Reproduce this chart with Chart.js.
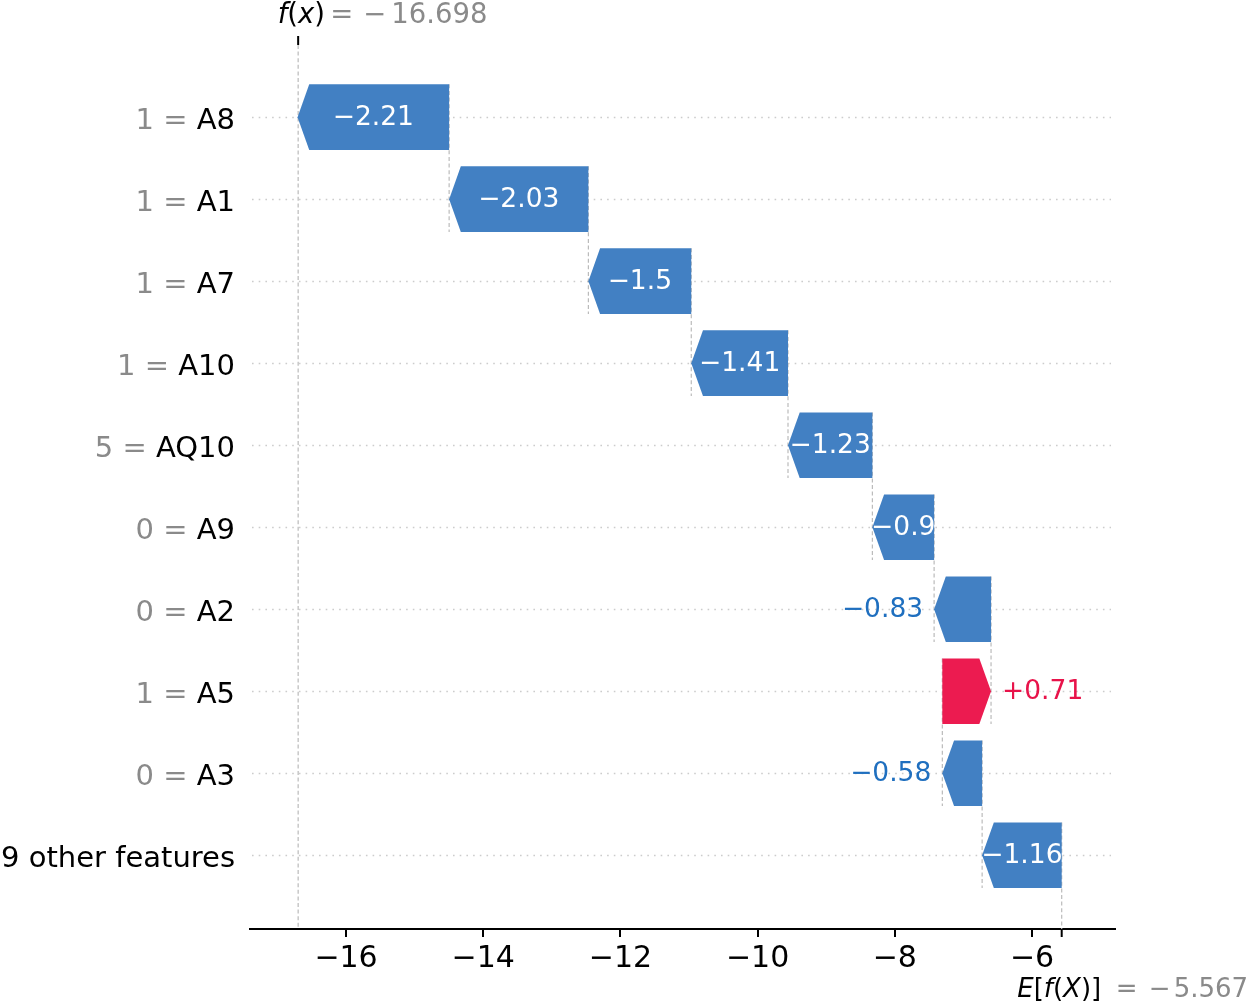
<!DOCTYPE html>
<html><head><meta charset="utf-8">
<script src="https://cdn.jsdelivr.net/npm/chart.js@4.4.1/dist/chart.umd.min.js"></script>
<style>html,body{margin:0;padding:0;background:#fff;}#c{display:block;}</style>
</head><body>
<canvas id="c" width="1255" height="1002" style="width:1255px;height:1002px"></canvas>
<script>
// ---- data (top row first) ----
const featureNames  = ["A8","A1","A7","A10","AQ10","A9","A2","A5","A3","9 other features"];
const featureValues = ["1","1","1","1","5","0","0","1","0",""];
const shapValues    = [-2.21,-2.03,-1.5,-1.41,-1.23,-0.9,-0.83,0.71,-0.58,-1.16];
const baseValue = -5.567;   // E[f(X)]
const fxValue   = -16.698;  // f(x)
const xTicks    = [-16,-14,-12,-10,-8,-6];

// cumulative positions, built from the bottom row (base value) upward
const starts = new Array(shapValues.length), ends = new Array(shapValues.length);
(function(){ let cur = baseValue; for (let i = shapValues.length-1; i >= 0; i--) { starts[i] = cur; ends[i] = cur + shapValues[i]; cur = ends[i]; } })();

const BLUE = '#4280c3', RED = '#ec1b50', BLUE_T = '#1f6fbf', RED_T = '#e8134a';
const GRAY = '#8a8a8a', LINE = '#bbbbbb';
const FF = '"DejaVu Sans", sans-serif';
const fmtNum = v => (v < 0 ? '\u2212' : '') + Math.abs(v);
const fmtShap = v => (v < 0 ? '\u2212' : '+') + Math.abs(v);

function drawPieces(ctx, x, y, pieces) {
  for (const p of pieces) {
    ctx.font = p.font; ctx.fillStyle = p.color;
    ctx.fillText(p.text, x, y);
    x += ctx.measureText(p.text).width;
  }
}

const waterfall = {
  id: 'waterfall',
  beforeDatasetsDraw(chart) {
    const {ctx, chartArea: ca, scales: {x: xs, y: ys}} = chart;
    ctx.save();
    // dotted horizontal grid
    ctx.strokeStyle = '#cccccc'; ctx.lineWidth = 1.6; ctx.setLineDash([1.6, 5.1]);
    for (let i = 0; i < shapValues.length; i++) {
      const y = Math.round(ys.getPixelForValue(i)) + 0.5;
      ctx.beginPath(); ctx.moveTo(ca.left + 2, y); ctx.lineTo(ca.right - 4, y); ctx.stroke();
    }
    // dashed connectors
    ctx.strokeStyle = LINE; ctx.lineWidth = 1.2; ctx.setLineDash([4, 2.6]);
    for (let i = 0; i < shapValues.length; i++) {
      const x = xs.getPixelForValue(starts[i]);
      const y1 = ys.getPixelForValue(i - 0.4);
      const y2 = ys.getPixelForValue(Math.min(i + 1.4, ys.max));
      ctx.beginPath(); ctx.moveTo(x, y1); ctx.lineTo(x, y2); ctx.stroke();
    }
    // f(x) line
    const fxp = xs.getPixelForValue(fxValue);
    ctx.beginPath(); ctx.moveTo(fxp, ca.top); ctx.lineTo(fxp, ca.bottom); ctx.stroke();
    ctx.restore();
  },
  afterDatasetsDraw(chart) {
    const {ctx, chartArea: ca, scales: {x: xs, y: ys}} = chart;
    ctx.save();
    const HL = 11.7;
    ctx.setLineDash([]);
    for (let i = 0; i < shapValues.length; i++) {
      const xs0 = xs.getPixelForValue(starts[i]), xe = xs.getPixelForValue(ends[i]);
      const yc = ys.getPixelForValue(i);
      const top = ys.getPixelForValue(i - 0.4), bot = ys.getPixelForValue(i + 0.4);
      const dir = shapValues[i] < 0 ? -1 : 1;
      const sh = xe - dir * HL;
      ctx.fillStyle = dir < 0 ? BLUE : RED;
      ctx.beginPath();
      ctx.moveTo(xs0, top); ctx.lineTo(sh, top); ctx.lineTo(xe, yc);
      ctx.lineTo(sh, bot); ctx.lineTo(xs0, bot); ctx.closePath(); ctx.fill();
      // label
      const txt = fmtShap(shapValues[i]);
      ctx.font = '26.5px ' + FF;
      const tw = ctx.measureText(txt).width;
      const bw = Math.abs(xe - xs0);
      const by = yc + 8;
      if (tw <= bw + 6) {
        ctx.fillStyle = '#ffffff'; ctx.textAlign = 'center';
        ctx.fillText(txt, (xe + xs0) / 2, by);
      } else if (dir < 0) {
        ctx.fillStyle = BLUE_T; ctx.textAlign = 'right';
        ctx.fillText(txt, xe - 11, by);
      } else {
        ctx.fillStyle = RED_T; ctx.textAlign = 'left';
        ctx.fillText(txt, xe + 11, by);
      }
    }
    // y labels
    ctx.textAlign = 'left';
    ctx.font = '29px ' + FF;
    for (let i = 0; i < featureNames.length; i++) {
      const y = ys.getPixelForValue(i) + 12;
      const name = featureNames[i];
      const nw = ctx.measureText(name).width;
      ctx.fillStyle = '#000';
      ctx.fillText(name, 235 - nw, y);
      if (featureValues[i] !== '') {
        const pre = featureValues[i] + ' = ';
        const pw = ctx.measureText(pre).width;
        ctx.fillStyle = GRAY;
        ctx.fillText(pre, 235 - nw - pw, y);
      }
    }
    // top tick for f(x)
    const fxp = xs.getPixelForValue(fxValue);
    ctx.strokeStyle = '#000'; ctx.lineWidth = 2;
    ctx.beginPath(); ctx.moveTo(fxp, ca.top - 9); ctx.lineTo(fxp, ca.top); ctx.stroke();
    const fs = 27.5;
    drawPieces(ctx, fxp - 20.5, 23.3, [
      {text: 'f', font: 'italic ' + fs + 'px ' + FF, color: '#000'},
      {text: '(', font: fs + 'px ' + FF, color: '#000'},
      {text: 'x', font: 'italic ' + fs + 'px ' + FF, color: '#000'},
      {text: ')', font: fs + 'px ' + FF, color: '#000'},
    ]);
    ctx.font = fs + 'px ' + FF; ctx.fillStyle = GRAY;
    ctx.fillText('=', fxp + 32, 23.3);
    ctx.fillText('\u2212', fxp + 65, 23.3);
    ctx.fillText(Math.abs(fxValue).toFixed(3), fxp + 93, 23.3);
    // bottom tick for E[f(X)]
    const bp = xs.getPixelForValue(baseValue);
    ctx.beginPath(); ctx.moveTo(bp, ca.bottom); ctx.lineTo(bp, ca.bottom + 8); ctx.stroke();
    const bs = 26;
    drawPieces(ctx, bp - 44.5, 996.5, [
      {text: 'E', font: 'italic ' + bs + 'px ' + FF, color: '#000'},
      {text: '[', font: bs + 'px ' + FF, color: '#000'},
      {text: 'f', font: 'italic ' + bs + 'px ' + FF, color: '#000'},
      {text: '(', font: bs + 'px ' + FF, color: '#000'},
      {text: 'X', font: 'italic ' + bs + 'px ' + FF, color: '#000'},
      {text: ')]', font: bs + 'px ' + FF, color: '#000'},
    ]);
    ctx.font = bs + 'px ' + FF; ctx.fillStyle = GRAY;
    ctx.fillText('=', bp + 54, 996.5);
    ctx.fillText('\u2212', bp + 87, 996.5);
    ctx.fillText(Math.abs(baseValue).toFixed(3), bp + 112, 996.5);
    ctx.restore();
  }
};

new Chart(document.getElementById('c').getContext('2d'), {
  type: 'bar',
  data: {
    datasets: [{
      data: shapValues.map((v, i) => ({x: [starts[i], ends[i]], y: i})),
      backgroundColor: 'rgba(0,0,0,0)', borderWidth: 0
    }]
  },
  options: {
    indexAxis: 'y', responsive: false, animation: false, devicePixelRatio: 1,
    layout: {padding: {left: 250, right: 140, top: 45, bottom: 21}},
    plugins: {legend: {display: false}, tooltip: {enabled: false}},
    scales: {
      x: {
        type: 'linear', min: -17.4, max: -4.79,
        afterBuildTicks: s => { s.ticks = xTicks.map(v => ({value: v})); },
        ticks: {font: {family: 'DejaVu Sans', size: 30}, color: '#000', padding: 4, callback: v => fmtNum(v)},
        border: {display: true, color: '#000', width: 2},
        grid: {drawOnChartArea: false, drawTicks: true, tickLength: 8, lineWidth: 2, color: '#000'}
      },
      y: {type: 'linear', min: -0.88, max: 9.9, reverse: true, display: false, offset: false}
    }
  },
  plugins: [waterfall]
});
</script>
</body></html>
